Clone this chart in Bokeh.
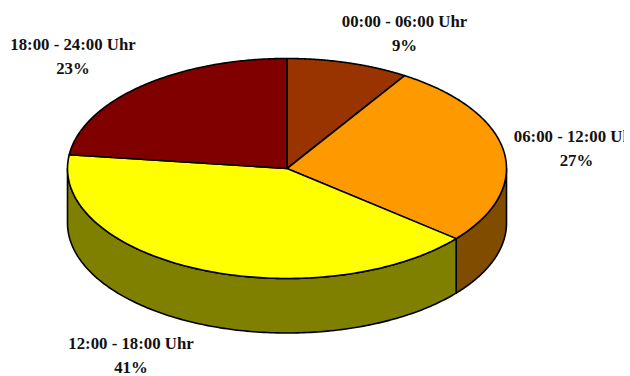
import numpy as np
from bokeh.core.properties import value
from bokeh.embed import file_html
from bokeh.plotting import figure
from bokeh.resources import INLINE

# Share of the day per time band, clockwise from twelve o'clock
periods = ["00:00 - 06:00 Uhr", "06:00 - 12:00 Uhr", "12:00 - 18:00 Uhr", "18:00 - 24:00 Uhr"]
shares = [9, 27, 41, 23]
top_colors = ["#993300", "#FF9900", "#FFFF00", "#800000"]
side_colors = ["#4D1A00", "#804D00", "#808000", "#400000"]

# Label anchors, in the figure's pixel-like units
label_x = [404, 576, 130.5, 72.5]
label_y = [21, 136, 343, 43.5]

# Pie geometry
CX, CY = 286.5, 168.0
RX, RY = 219.5, 110.0
DEPTH = 54.5
WIDTH, HEIGHT = 624, 376


def rim(a0, a1, n=160):
    """Points on the top ellipse between two clockwise angles (radians from the top)."""
    t = np.linspace(a0, a1, n)
    return CX + RX * np.sin(t), CY - RY * np.cos(t)


p = figure(
    width=WIDTH, height=HEIGHT, output_backend="svg", toolbar_location=None,
    x_range=(0, WIDTH), y_range=(HEIGHT, 0), min_border=0,
    x_axis_type=None, y_axis_type=None, outline_line_color=None,
    background_fill_color="white", border_fill_color="white",
)
p.grid.visible = False

edges = 2 * np.pi * np.concatenate([[0], np.cumsum(shares)]) / sum(shares)

# Cylinder wall: only the front half of the rim (quarter past to quarter to) is visible
for i, color in enumerate(side_colors):
    a0 = max(edges[i], np.pi / 2)
    a1 = min(edges[i + 1], 3 * np.pi / 2)
    if a1 <= a0:
        continue
    xs, ys = rim(a0, a1)
    p.patch(
        np.concatenate([xs, xs[::-1]]), np.concatenate([ys, ys[::-1] + DEPTH]),
        fill_color=color, line_color="black", line_width=1.6, line_join="round",
    )

# Top face of each slice
for i, color in enumerate(top_colors):
    xs, ys = rim(edges[i], edges[i + 1])
    p.patch(
        np.concatenate([[CX], xs]), np.concatenate([[CY], ys]),
        fill_color=color, line_color="black", line_width=1.6, line_join="round",
    )

# Two-line labels: band name over its percentage
p.text(
    label_x, label_y, text=periods, text_font=value("Liberation Serif"),
    text_font_style="bold", text_font_size="16.8px", text_color="#111111",
    text_align="center", text_baseline="middle",
)
p.text(
    label_x, [y + 24 for y in label_y], text=[f"{s}%" for s in shares],
    text_font=value("Liberation Serif"), text_font_style="bold",
    text_font_size="16.8px", text_color="#111111",
    text_align="center", text_baseline="middle",
)

open("out.html", "w").write(file_html(p, INLINE))
